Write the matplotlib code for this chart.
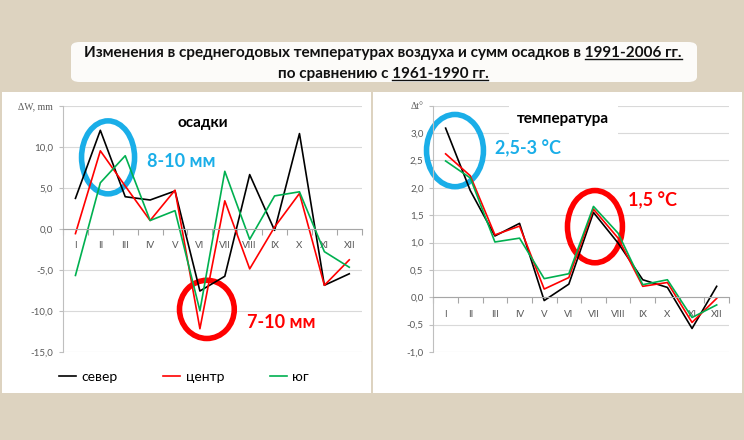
import numpy as np
import matplotlib
matplotlib.use('Agg')
import matplotlib.pyplot as plt
from matplotlib.patches import Ellipse, Rectangle, FancyBboxPatch
from matplotlib.lines import Line2D

plt.rcParams['font.family'] = ['Lato', 'Open Sans', 'DejaVu Sans']

# данные
meses = ['I', 'II', 'III', 'IV', 'V', 'VI', 'VII', 'VIII', 'IX', 'X', 'XI', 'XII']

osadki_sever = [3.7, 12.0, 3.9, 3.5, 4.6, -7.6, -5.8, 6.6, -0.2, 11.6, -6.9, -5.5]
osadki_centr = [-0.6, 9.5, 5.2, 1.0, 4.7, -12.2, 3.4, -4.9, 0.2, 4.3, -6.9, -3.8]
osadki_yug = [-5.7, 5.6, 8.9, 1.0, 2.2, -10.0, 7.0, -1.3, 4.0, 4.5, -2.8, -4.7]

temp_sever = [3.09, 1.95, 1.12, 1.35, -0.06, 0.24, 1.55, 0.99, 0.32, 0.18, -0.57, 0.20]
temp_centr = [2.62, 2.22, 1.14, 1.30, 0.15, 0.36, 1.61, 1.08, 0.20, 0.27, -0.46, -0.02]
temp_yug = [2.49, 2.18, 1.01, 1.08, 0.34, 0.43, 1.66, 1.17, 0.23, 0.32, -0.37, -0.14]

series_names = ['север', 'центр', 'юг']
series_colors = ['black', '#ff0000', '#00b050']

W, H = 744, 440
fig = plt.figure(figsize=(W / 100, H / 100), dpi=100, facecolor='#ddd3c0')

def px(x0, y0, x1, y1):
    # пиксели (сверху) -> доли фигуры
    return [x0 / W, 1 - y1 / H, (x1 - x0) / W, (y1 - y0) / H]

# белые панели
for box in (px(2, 92, 371, 393), px(373, 92, 742, 393)):
    fig.patches.append(Rectangle(box[:2], box[2], box[3], transform=fig.transFigure,
                                 facecolor='white', edgecolor='none', zorder=-5))

# заголовок
tb = px(71, 42, 697, 82)
fig.patches.append(FancyBboxPatch(tb[:2], tb[2], tb[3], transform=fig.transFigure,
                                  boxstyle='round,pad=0,rounding_size=0.012',
                                  facecolor='white', edgecolor='none', alpha=0.92, zorder=-5))

linha1 = 'Изменения в среднегодовых температурах воздуха и сумм осадков в 1991-2006 гг.'
linha2 = 'по сравнению с 1961-1990 гг.'
sub1 = '1991-2006 гг.'
sub2 = '1961-1990 гг.'
t1 = fig.text(383 / W, 1 - 53 / H, linha1, ha='center', va='center', fontsize=11,
              fontweight='bold', color='#111111')
t2 = fig.text(383 / W, 1 - 74 / H, linha2, ha='center', va='center', fontsize=11,
              fontweight='bold', color='#111111')

x = np.arange(len(meses)) + 0.5
gray = '#595959'
grid_c = '#d9d9d9'


def fmt(v):
    return f'{v:.1f}'.replace('.', ',')


def prepara(ax, ymin, ymax, step, toplabel):
    ax.set_xlim(0, 12)
    ax.set_ylim(ymin, ymax)
    yt = np.arange(ymin, ymax + step / 2, step)
    ax.set_yticks(yt)
    labs = [fmt(v) for v in yt]
    labs[-1] = toplabel
    ax.set_yticklabels(labs)
    ax.get_yticklabels()[-1].set_fontfamily(['Liberation Serif', 'DejaVu Serif'])
    ax.set_xticks(np.arange(13))
    ax.set_xticks(x, minor=True)
    ax.set_xticklabels(meses, minor=True)
    ax.tick_params(axis='x', which='major', length=4, color='#a6a6a6', labelbottom=False)
    ax.tick_params(axis='x', which='minor', length=0, pad=9, labelsize=7, labelcolor=gray)
    ax.tick_params(axis='y', length=3, color='#bfbfbf', labelsize=7, labelcolor=gray, pad=4)
    for s in ('top', 'right'):
        ax.spines[s].set_visible(False)
    ax.spines['bottom'].set_position(('data', 0))
    ax.spines['bottom'].set_color('#a6a6a6')
    ax.spines['left'].set_color('#bfbfbf')
    ax.grid(axis='y', color=grid_c, lw=0.8)
    ax.set_axisbelow(True)
    ax.set_facecolor('none')


# осадки
ax1 = fig.add_axes(px(63, 105.7, 361.7, 351.7))
prepara(ax1, -15, 15, 5, 'ΔW, mm')
for vals, nome, cor in zip([osadki_sever, osadki_centr, osadki_yug], series_names, series_colors):
    ax1.plot(x, vals, color=cor, lw=1.2, label=nome)
ax1.text(5.62, 12.9, 'осадки', ha='center', va='center', fontsize=11, fontweight='bold')
ax1.add_patch(Ellipse((1.81, 8.7), 2.13, 8.9, fill=False, ec='#1aaee8', lw=4, clip_on=False))
ax1.text(3.37, 8.2, '8-10 мм', ha='left', va='center', fontsize=13, fontweight='bold', color='#1aaee8')
ax1.add_patch(Ellipse((5.78, -9.84), 2.2, 7.1, fill=False, ec='#ff0000', lw=4, clip_on=False))
ax1.text(7.39, -11.5, '7-10 мм', ha='left', va='center', fontsize=13, fontweight='bold', color='#ff0000')

fig.legend(*ax1.get_legend_handles_labels(), loc='center', bbox_to_anchor=(184 / W, 1 - 377 / H),
           ncol=3, frameon=False, fontsize=10, handlelength=1.2, handletextpad=0.4,
           columnspacing=3.3)

# температура
ax2 = fig.add_axes(px(433.3, 105.7, 729, 352))
prepara(ax2, -1.0, 3.5, 0.5, 'Δt°')
for vals, nome, cor in zip([temp_sever, temp_centr, temp_yug], series_names, series_colors):
    ax2.plot(x, vals, color=cor, lw=1.2, label=nome)
ax2.text(5.28, 3.25, 'температура', ha='center', va='center', fontsize=11, fontweight='bold',
         bbox=dict(facecolor='white', edgecolor='none', pad=6))
ax2.add_patch(Ellipse((0.88, 2.68), 2.31, 1.32, fill=False, ec='#1aaee8', lw=4, clip_on=False))
ax2.text(2.5, 2.72, '2,5-3 °C', ha='left', va='center', fontsize=13, fontweight='bold', color='#1aaee8')
ax2.add_patch(Ellipse((6.56, 1.29), 2.23, 1.32, fill=False, ec='#ff0000', lw=4, clip_on=False))
ax2.text(7.9, 1.76, '1,5 °C', ha='left', va='center', fontsize=13, fontweight='bold', color='#ff0000')

# подчёркивания в заголовке
fig.canvas.draw()
r = fig.canvas.get_renderer()
for t, sub in ((t1, sub1), (t2, sub2)):
    bb = t.get_window_extent(r)
    tmp = fig.text(0, 0, sub, fontsize=11, fontweight='bold')
    w = tmp.get_window_extent(r).width
    tmp.remove()
    y = bb.y0 + 1
    fig.add_artist(Line2D([(bb.x1 - w) / W, bb.x1 / W], [y / H, y / H], color='#111111', lw=1,
                          transform=fig.transFigure))

fig.savefig('out.png', dpi=100, facecolor=fig.get_facecolor())
